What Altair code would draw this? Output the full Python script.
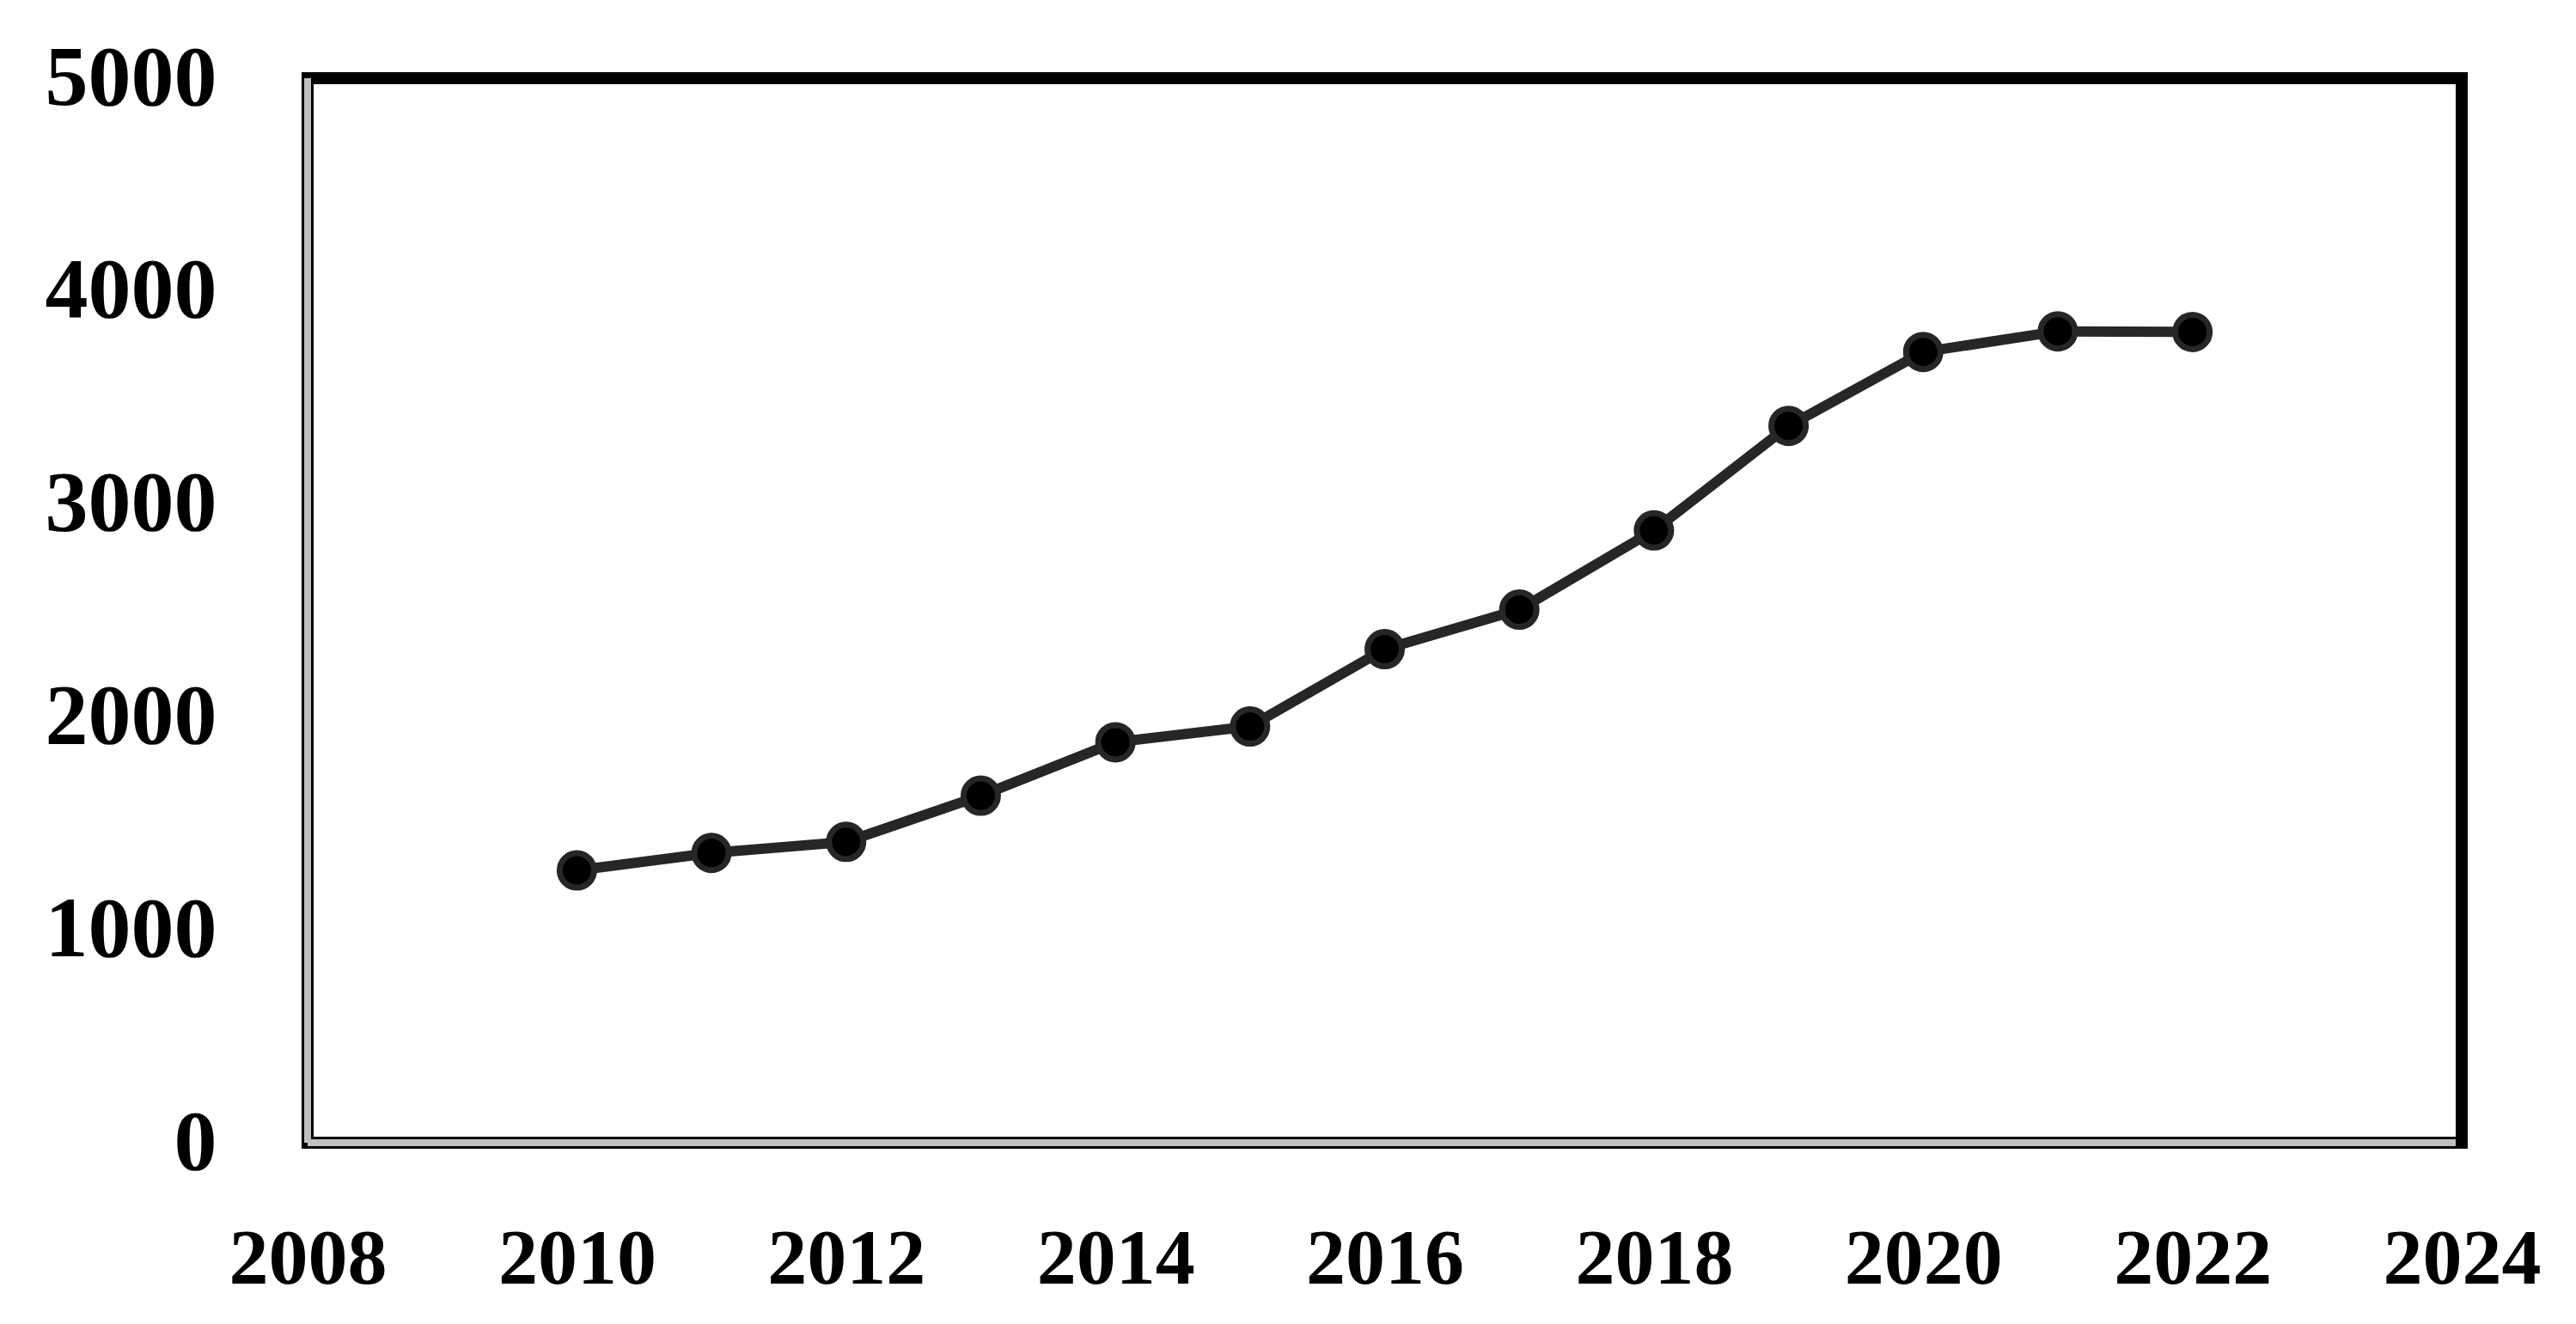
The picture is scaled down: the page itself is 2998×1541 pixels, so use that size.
import altair as alt
import pandas as pd

years = [2010, 2011, 2012, 2013, 2014, 2015, 2016, 2017, 2018, 2019, 2020, 2021, 2022]
values = [1279, 1361, 1413, 1630, 1881, 1955, 2318, 2504, 2876, 3367, 3714, 3811, 3808]
x_ticks = [2008, 2010, 2012, 2014, 2016, 2018, 2020, 2022, 2024]
y_ticks = [0, 1000, 2000, 3000, 4000, 5000]
x_domain = [2008, 2024]
y_domain = [0, 5000]

df = pd.DataFrame({"year": years, "value": values})
FONT = "Liberation Serif"

xscale = alt.Scale(domain=x_domain, nice=False, zero=False)
yscale = alt.Scale(domain=y_domain, nice=False)

xaxis = alt.Axis(values=x_ticks, format="d", title=None, grid=False, domain=False,
                 ticks=False, tickSize=0, labelFont=FONT, labelFontSize=92,
                 labelFontWeight="bold", labelColor="black", labelPadding=90,
                 labelOverlap=False, labelFlush=False, labelLimit=1000)
yaxis = alt.Axis(values=y_ticks, format="d", title=None, grid=False, domain=False,
                 ticks=False, tickSize=0, labelFont=FONT, labelFontSize=100,
                 labelFontWeight="bold", labelColor="black", labelPadding=106,
                 labelOverlap=False, labelFlush=False, labelLimit=1000)

base = alt.Chart(df)

x_lo, x_hi = x_domain
y_lo, y_hi = y_domain

top_rule = base.mark_rule(color="black", strokeWidth=13, strokeCap="square").encode(
    x=alt.datum(x_lo, scale=xscale, axis=xaxis), x2=alt.datum(x_hi),
    y=alt.datum(y_hi, scale=yscale, axis=yaxis))
left_black = base.mark_rule(color="black", strokeWidth=13, strokeCap="square").encode(
    x=alt.datum(x_lo), y=alt.datum(y_lo), y2=alt.datum(y_hi))
bottom_black = base.mark_rule(color="black", strokeWidth=13, strokeCap="square").encode(
    x=alt.datum(x_lo), x2=alt.datum(x_hi), y=alt.datum(y_lo))
left_gray = base.mark_rule(color="#c0c0c0", strokeWidth=7).encode(
    x=alt.datum(x_lo), y=alt.datum(y_lo), y2=alt.datum(y_hi))
bottom_gray = base.mark_rule(color="#c0c0c0", strokeWidth=7).encode(
    x=alt.datum(x_lo), x2=alt.datum(x_hi), y=alt.datum(y_lo))
right_black = base.mark_rule(color="black", strokeWidth=14, strokeCap="square").encode(
    x=alt.datum(x_hi), y=alt.datum(y_lo), y2=alt.datum(y_hi))

line = base.mark_line(color="#262626", strokeWidth=12).encode(
    x=alt.X("year:Q", scale=xscale, axis=xaxis),
    y=alt.Y("value:Q", scale=yscale, axis=yaxis))
pts = base.mark_point(shape="circle", filled=True, fill="black", stroke="#262626",
                      strokeWidth=7, size=1600, opacity=1).encode(
    x=alt.X("year:Q", scale=xscale),
    y=alt.Y("value:Q", scale=yscale))

chart = alt.layer(top_rule, left_black, bottom_black, left_gray, bottom_gray,
                  right_black, line, pts).properties(
    width=2507, height=1239,
    autosize=alt.AutoSizeParams(type="none"),
    padding={"left": 350, "top": 83, "right": 125, "bottom": 200},
    background="white",
).configure_view(stroke=None)

chart.save("out.html", embed_options={"renderer": "svg", "actions": False})
